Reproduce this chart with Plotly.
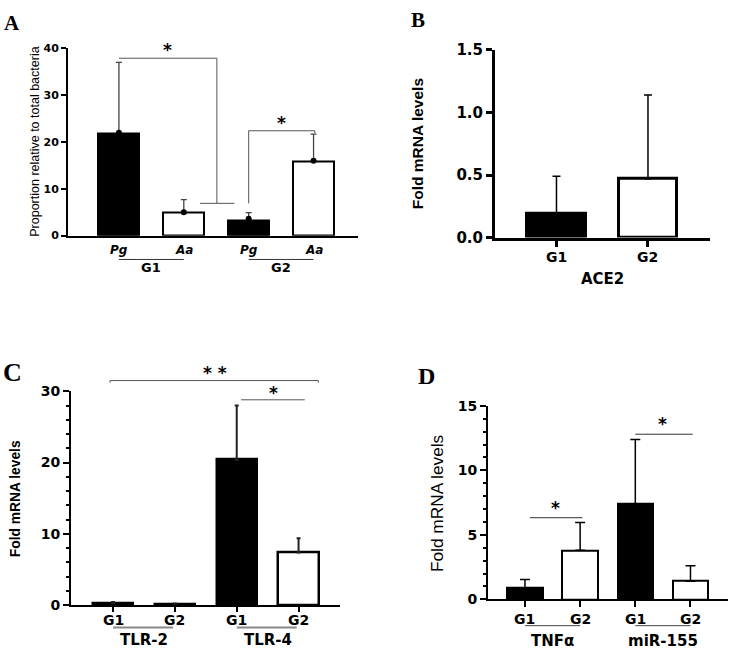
import plotly.graph_objects as go

W, H = 731, 658

# ---------------- data ----------------
# Panel A
a_cats = ["Pg", "Aa", "Pg", "Aa"]
a_groups = ["G1", "G2"]
a_vals = [21.9, 4.9, 3.3, 15.9]
a_err_top = [37.0, 7.7, 4.9, 21.7]
a_dots = [22.0, 5.0, 3.6, 16.0]
a_yticks = [0, 10, 20, 30, 40]

# Panel B
b_cats = ["G1", "G2"]
b_group = "ACE2"
b_vals = [0.19, 0.47]
b_err_top = [0.49, 1.14]
b_yticks = [0.0, 0.5, 1.0, 1.5]
b_yticktext = ["0.0", "0.5", "1.0", "1.5"]

# Panel C
c_cats = ["G1", "G2", "G1", "G2"]
c_groups = ["TLR-2", "TLR-4"]
c_vals = [0.3, 0.2, 20.4, 7.4]
c_err_top = [0.45, 0.25, 28.0, 9.4]
c_yticks = [0, 10, 20, 30]

# Panel D
d_cats = ["G1", "G2", "G1", "G2"]
d_groups = ["TNFα", "miR-155"]
d_vals = [0.9, 3.8, 7.4, 1.4]
d_err_top = [1.55, 5.95, 12.4, 2.6]
d_yticks = [0, 5, 10, 15]

fills = ["black", "white", "black", "white"]

SANS = "DejaVu Sans"
NARROW = "Liberation Sans, Arial"
SERIF = "Liberation Serif, Times New Roman, serif"


def xdom(p0, p1):
    return [p0 / W, p1 / W]


def ydom(ptop, pbot):
    return [1 - pbot / H, 1 - ptop / H]


def ypap(p):
    return 1 - p / H


# panel geometry (pixel layout)
P = {
    "A": dict(x=(68, 358), y=(40.5, 233), xr=[-0.785, 3.685], yr=[0, 40]),
    "B": dict(x=(495, 710), y=(42, 235), xr=[-0.672, 1.678], yr=[0, 1.5]),
    "C": dict(x=(71, 340), y=(393, 613), xr=[-0.68, 3.67], yr=[0, 30]),
    "D": dict(x=(488, 728), y=(408, 607), xr=[-0.67, 3.68], yr=[0, 15]),
}


def dpy(panel, v):
    """data value -> paper y for a panel"""
    g = P[panel]
    top, bot = g["y"]
    r0, r1 = g["yr"]
    pix = bot - (v - r0) / (r1 - r0) * (bot - top)
    return ypap(pix)


fig = go.Figure()


def add_bars(xa, ya, vals, tops, lw, ecol, ethick, ewidth, bw):
    n = len(vals)
    fig.add_trace(go.Bar(
        x=list(range(n)), y=vals, width=bw,
        marker=dict(color=fills[:n], line=dict(color="black", width=lw)),
        error_y=dict(type="data", symmetric=False,
                     array=[t - v for t, v in zip(tops, vals)],
                     arrayminus=[0] * n, color=ecol,
                     thickness=ethick, width=ewidth),
        xaxis=xa, yaxis=ya, showlegend=False, hoverinfo="skip",
    ))


add_bars("x", "y", a_vals, a_err_top, 2, "#444", 1.3, 3, 0.63)
fig.add_trace(go.Scatter(x=list(range(4)), y=a_dots, mode="markers",
                         marker=dict(color="black", size=6),
                         xaxis="x", yaxis="y", showlegend=False, hoverinfo="skip"))
add_bars("x2", "y2", b_vals, b_err_top, 3, "black", 1.5, 4, 0.64)
add_bars("x3", "y3", c_vals, c_err_top, 2.5, "#222", 2, 2, 0.65)
add_bars("x4", "y4", d_vals, d_err_top, 2, "black", 1.5, 5, 0.64)


def xax(panel, lw, ticks, ticklen=5, tickw=2):
    g = P[panel]
    d = dict(domain=xdom(*g["x"]), range=g["xr"], showline=True, linecolor="black",
             linewidth=lw, showgrid=False, zeroline=False, showticklabels=False,
             fixedrange=True)
    if ticks:
        d.update(ticks="outside", tickvals=ticks, ticklen=ticklen, tickwidth=tickw,
                 tickcolor="black")
    else:
        d.update(ticks="")
    return d


def yax(panel, lw, tickvals, ticktext, fsize, bold=True, minor=None, ticklen=5, tickw=2):
    g = P[panel]
    d = dict(domain=ydom(*g["y"]), range=g["yr"], showline=True, linecolor="black",
             linewidth=lw, showgrid=False, zeroline=False, ticks="outside",
             tickvals=tickvals, ticktext=ticktext, ticklen=ticklen, tickwidth=tickw,
             tickcolor="black",
             tickfont=dict(family=SANS, size=fsize, color="black",
                           weight="bold" if bold else "normal"),
             fixedrange=True)
    if minor:
        d["minor"] = dict(ticks="outside", dtick=minor, ticklen=3, tickwidth=1.5,
                          tickcolor="black", showgrid=False)
    return d


fig.update_layout(
    width=W, height=H, margin=dict(l=0, r=0, t=0, b=0), autosize=False,
    paper_bgcolor="white", plot_bgcolor="rgba(0,0,0,0)", bargap=0,
    xaxis=dict(xax("A", 2, None), anchor="y"),
    yaxis=dict(yax("A", 2, a_yticks, [str(v) for v in a_yticks], 11), anchor="x"),
    xaxis2=dict(xax("B", 3, [0, 1], 6, 3), anchor="y2"),
    yaxis2=dict(yax("B", 3, b_yticks, b_yticktext, 15, ticklen=6, tickw=3), anchor="x2"),
    xaxis3=dict(xax("C", 2, [0, 1, 2, 3], 5, 2), anchor="y3"),
    yaxis3=dict(yax("C", 2, c_yticks, [str(v) for v in c_yticks], 14, minor=2, ticklen=6), anchor="x3"),
    xaxis4=dict(xax("D", 2, [0, 1, 2, 3], 6, 2), anchor="y4"),
    yaxis4=dict(yax("D", 2, d_yticks, [str(v) for v in d_yticks], 14, minor=1, ticklen=6), anchor="x4"),
)

ann = []
shapes = []


def text(x, y, s, size, xref="paper", yref="paper", family=SANS, bold=True,
         italic=False, angle=0, color="black", xanchor="center", yanchor="middle"):
    ann.append(dict(x=x, y=y, text=s, xref=xref, yref=yref, showarrow=False,
                    textangle=angle, xanchor=xanchor, yanchor=yanchor,
                    font=dict(family=family, size=size, color=color,
                              weight="bold" if bold else "normal",
                              style="italic" if italic else "normal")))


def line(x0, y0, x1, y1, xref, color, width, yref="paper"):
    shapes.append(dict(type="line", x0=x0, y0=y0, x1=x1, y1=y1, xref=xref, yref=yref,
                       line=dict(color=color, width=width)))


# ---- panel letters
text(11.5 / W, ypap(14), "A", 21, family=SERIF)
text(418 / W, ypap(11), "B", 21, family=SERIF)
text(12 / W, ypap(374), "C", 26, family=SERIF)
text(426 / W, ypap(377), "D", 24, family=SERIF)

# ---- y titles
text(35 / W, ypap(136.5), "Proportion relative to total bacteria", 12.5, family=NARROW,
     bold=False, angle=-90)
text(417 / W, ypap(139), "Fold mRNA levels", 15.5, family=NARROW, angle=-90)
text(15 / W, ypap(504), "Fold mRNA levels", 13.8, family=NARROW, angle=-90)
text(437 / W, ypap(508), "Fold mRNA levels", 17.3, family=NARROW, bold=False, angle=-90)

# ---- x labels
# A
for i, c in enumerate(a_cats):
    text(i, ypap(248), c, 12, xref="x", italic=True)
for k, g in enumerate(a_groups):
    line(2 * k, ypap(257.5), 2 * k + 1, ypap(257.5), "x", "#333", 1)
    text(2 * k + 0.5, ypap(266), g, 13, xref="x")
# B
for i, c in enumerate(b_cats):
    text(i, ypap(255), c, 14, xref="x2")
text(0.5, ypap(278), b_group, 15, xref="x2")
# C
for i, c in enumerate(c_cats):
    text(i, ypap(628.5), c, 14, xref="x3")
for k, g in enumerate(c_groups):
    line(2 * k, ypap(636), 2 * k + 0.97, ypap(636), "x3", "#888", 2)
    text(2 * k + 0.5, ypap(648.5), g, 15, xref="x3")
# D
for i, c in enumerate(d_cats):
    text(i, ypap(627), c, 14, xref="x4")
for k, g in enumerate(d_groups):
    line(2 * k, ypap(634), 2 * k + 1, ypap(634), "x4", "#444", 1)
    text(2 * k + 0.5, ypap(650), g, 15, xref="x4")

# ---- significance brackets
# A
line(0, dpy("A", 37.9), 1.51, dpy("A", 37.9), "x", "#555", 1)
line(1.51, dpy("A", 37.9), 1.51, dpy("A", 6.9), "x", "#555", 1)
line(1.25, dpy("A", 6.9), 1.78, dpy("A", 6.9), "x", "#555", 1)
text(0.75, dpy("A", 39.6), "*", 17, xref="x")
line(2.0, dpy("A", 22.4), 3.02, dpy("A", 22.4), "x", "#555", 1)
line(2.0, dpy("A", 22.4), 2.0, dpy("A", 6.9), "x", "#555", 1)
line(3.02, dpy("A", 22.4), 3.02, dpy("A", 21.9), "x", "#555", 1)
text(2.5, dpy("A", 24.1), "*", 17, xref="x")
# C
line(-0.05, dpy("C", 31.5), 3.32, dpy("C", 31.5), "x3", "#555", 1)
line(-0.05, dpy("C", 31.5), -0.05, dpy("C", 31.2), "x3", "#555", 1)
line(3.32, dpy("C", 31.5), 3.32, dpy("C", 31.2), "x3", "#555", 1)
text(1.65, dpy("C", 32.5), "* *", 17, xref="x3")
line(2.07, dpy("C", 28.8), 3.1, dpy("C", 28.8), "x3", "#555", 1)
text(2.59, dpy("C", 29.8), "*", 17, xref="x3")
# D
line(0.09, dpy("D", 6.33), 1.04, dpy("D", 6.33), "x4", "#333", 1)
text(0.55, dpy("D", 7.1), "*", 17, xref="x4")
line(2.0, dpy("D", 12.8), 3.04, dpy("D", 12.8), "x4", "#333", 1)
text(2.5, dpy("D", 13.6), "*", 17, xref="x4")

fig.update_layout(annotations=ann, shapes=shapes)
fig.write_html("out.html", config={"displayModeBar": False},
               post_script="document.body.style.margin='0px';")
